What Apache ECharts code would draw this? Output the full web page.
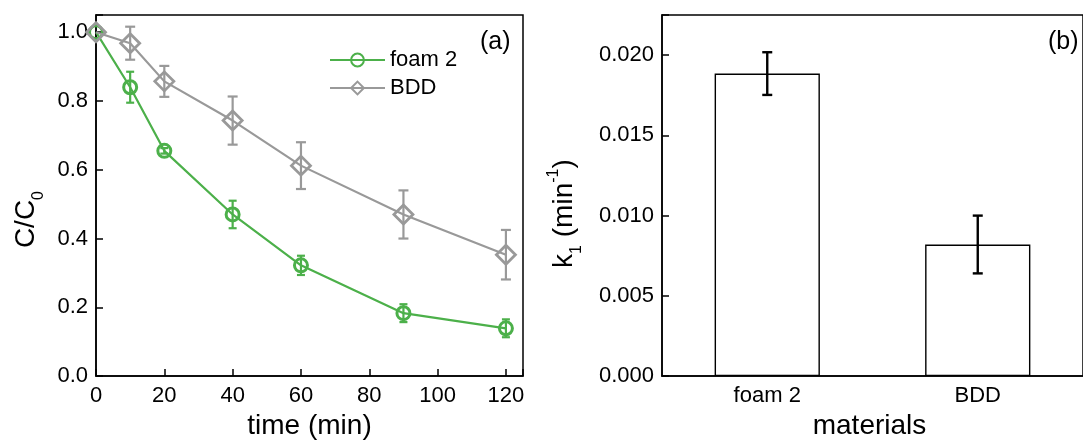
<!DOCTYPE html>
<html>
<head>
<meta charset="utf-8">
<script src="https://cdn.jsdelivr.net/npm/echarts@6/dist/echarts.min.js"></script>
<style>
html,body{margin:0;padding:0;background:#fff;}
#main{width:1083px;height:445px;}
</style>
</head>
<body>
<div id="main"></div>
<script>
// ---- data (panel a) ----
const times = [0, 10, 20, 40, 60, 90, 120];
const foam2 = [1.0, 0.84, 0.655, 0.47, 0.322, 0.183, 0.139];
const foam2Err = [0, 0.045, 0.008, 0.04, 0.028, 0.026, 0.026];
const bdd = [1.0, 0.968, 0.857, 0.743, 0.612, 0.47, 0.353];
const bddErr = [0, 0.048, 0.045, 0.07, 0.068, 0.07, 0.072];
const timeTicks = [0, 20, 40, 60, 80, 100, 120];
// ---- data (panel b) ----
const materials = ['foam 2', 'BDD'];
const k1 = [0.01885, 0.0082];
const k1Err = [0.00133, 0.0018];

const GREEN = '#4cb04a';
const GRAY = '#999999';
const FONT = 'Liberation Sans';

function errData(xs, ys, es) {
  const out = [];
  for (let i = 0; i < xs.length; i++) {
    if (es[i] > 0) out.push([xs[i], ys[i] - es[i], ys[i] + es[i]]);
  }
  return out;
}
function errRender(color, capHalf, width) {
  return function (params, api) {
    const x = api.value(0);
    const p1 = api.coord([x, api.value(2)]);
    const p2 = api.coord([x, api.value(1)]);
    const st = {stroke: color, lineWidth: width};
    return {
      type: 'group',
      children: [
        {type: 'line', shape: {x1: p1[0], y1: p1[1], x2: p2[0], y2: p2[1]}, style: st},
        {type: 'line', shape: {x1: p1[0] - capHalf, y1: p1[1], x2: p1[0] + capHalf, y2: p1[1]}, style: st},
        {type: 'line', shape: {x1: p2[0] - capHalf, y1: p2[1], x2: p2[0] + capHalf, y2: p2[1]}, style: st}
      ]
    };
  };
}

const chart = echarts.init(document.getElementById('main'), null, {renderer: 'canvas'});
const axisLine = {show: true, lineStyle: {color: '#000', width: 1.5}};
const tickStyle = {show: true, inside: true, length: 7, lineStyle: {color: '#000', width: 1.5}};

chart.setOption({
  backgroundColor: '#fff',
  animation: false,
  textStyle: {fontFamily: FONT},
  grid: [
    {left: 96, top: 15, width: 427, height: 366, show: true, borderColor: '#000', borderWidth: 1.5, backgroundColor: 'transparent'},
    {left: 662, top: 15, width: 428, height: 366, show: true, borderColor: '#000', borderWidth: 1.5, backgroundColor: 'transparent'}
  ],
  legend: {
    data: ['foam 2', 'BDD'],
    orient: 'vertical',
    left: 329,
    top: 48,
    padding: 0,
    itemWidth: 55,
    itemHeight: 16,
    itemGap: 4,
    textStyle: {fontFamily: FONT, fontSize: 22, color: '#000', lineHeight: 24}
  },
  xAxis: [
    {
      gridIndex: 0, type: 'value', min: 0, max: 125, interval: 20,
      axisLine: axisLine, axisTick: tickStyle, splitLine: {show: false},
      axisLabel: {
        fontFamily: FONT, fontSize: 22, color: '#000', margin: 9,
        formatter: function (v) { return timeTicks.indexOf(v) >= 0 ? String(v) : ''; }
      },
      name: 'time (min)', nameLocation: 'middle', nameGap: 35,
      nameTextStyle: {fontFamily: FONT, fontSize: 28, color: '#000'}
    },
    {
      gridIndex: 1, type: 'category', data: materials, boundaryGap: true,
      axisLine: axisLine, axisTick: {show: false}, splitLine: {show: false},
      axisLabel: {fontFamily: FONT, fontSize: 22, color: '#000', margin: 9},
      name: 'materials', nameLocation: 'middle', nameGap: 35,
      nameTextStyle: {fontFamily: FONT, fontSize: 28, color: '#000', padding: [0, 6, 0, 0]}
    }
  ],
  yAxis: [
    {
      gridIndex: 0, type: 'value', min: 0, max: 1.05, interval: 0.2,
      axisLine: axisLine, axisTick: tickStyle, splitLine: {show: false},
      axisLabel: {
        fontFamily: FONT, fontSize: 22, color: '#000', margin: 8,
        formatter: function (v) { return Math.abs(v * 5 - Math.round(v * 5)) < 1e-6 ? v.toFixed(1) : ''; }
      },
      name: '{a|C/C}{s|0}', nameLocation: 'middle', nameGap: 56, nameRotate: 90,
      nameTextStyle: {
        color: '#000', padding: [0, 48, 0, 0],
        rich: {
          a: {fontFamily: FONT, fontSize: 28, color: '#000'},
          s: {fontFamily: FONT, fontSize: 16, color: '#000', verticalAlign: 'bottom', padding: [0, 0, -7, 0]}
        }
      }
    },
    {
      gridIndex: 1, type: 'value', min: 0, max: 0.0225, interval: 0.005,
      axisLine: axisLine, axisTick: tickStyle, splitLine: {show: false},
      axisLabel: {
        fontFamily: FONT, fontSize: 22, color: '#000', margin: 8,
        formatter: function (v) { return Math.abs(v * 200 - Math.round(v * 200)) < 1e-6 ? v.toFixed(3) : ''; }
      },
      name: '{a|k}{s|1}{a| (min}{p|-1}{a|)}', nameLocation: 'middle', nameGap: 84, nameRotate: 90,
      nameTextStyle: {
        color: '#000', padding: [0, 36, 0, 0],
        rich: {
          a: {fontFamily: FONT, fontSize: 28, color: '#000'},
          s: {fontFamily: FONT, fontSize: 16, color: '#000', verticalAlign: 'bottom', padding: [0, 0, -7, 0]},
          p: {fontFamily: FONT, fontSize: 16, color: '#000', verticalAlign: 'top', padding: [-4, 0, 0, 0]}
        }
      }
    }
  ],
  graphic: [
    {type: 'text', left: 480, top: 30, style: {text: '(a)', fontFamily: FONT, fontSize: 25, fill: '#000'}},
    {type: 'text', left: 1048, top: 30, style: {text: '(b)', fontFamily: FONT, fontSize: 25, fill: '#000'}}
  ],
  series: [
    {
      name: 'foam 2', type: 'line', xAxisIndex: 0, yAxisIndex: 0,
      data: times.map((t, i) => [t, foam2[i]]),
      symbol: 'circle', symbolSize: 13,
      lineStyle: {color: GREEN, width: 2.2},
      itemStyle: {color: 'rgba(255,255,255,0)', borderColor: GREEN, borderWidth: 3},
      z: 2
    },
    {
      name: 'BDD', type: 'line', xAxisIndex: 0, yAxisIndex: 0,
      data: times.map((t, i) => [t, bdd[i]]),
      symbol: 'diamond', symbolSize: 19,
      lineStyle: {color: GRAY, width: 2.2},
      itemStyle: {color: 'rgba(255,255,255,0)', borderColor: GRAY, borderWidth: 2.8},
      z: 3
    },
    {
      name: 'foam 2 err', type: 'custom', xAxisIndex: 0, yAxisIndex: 0,
      data: errData(times, foam2, foam2Err),
      renderItem: errRender(GREEN, 4, 2.2), z: 4, silent: true
    },
    {
      name: 'BDD err', type: 'custom', xAxisIndex: 0, yAxisIndex: 0,
      data: errData(times, bdd, bddErr),
      renderItem: errRender(GRAY, 5, 2.2), z: 4, silent: true
    },
    {
      name: 'k1', type: 'bar', xAxisIndex: 1, yAxisIndex: 1,
      data: k1, barWidth: '50%',
      itemStyle: {color: '#fff', borderColor: '#000', borderWidth: 1.4}
    },
    {
      name: 'k1 err', type: 'custom', xAxisIndex: 1, yAxisIndex: 1,
      data: materials.map((m, i) => [i, k1[i] - k1Err[i], k1[i] + k1Err[i]]),
      renderItem: errRender('#000', 5, 2.4), z: 4, silent: true
    }
  ]
});
</script>
</body>
</html>
